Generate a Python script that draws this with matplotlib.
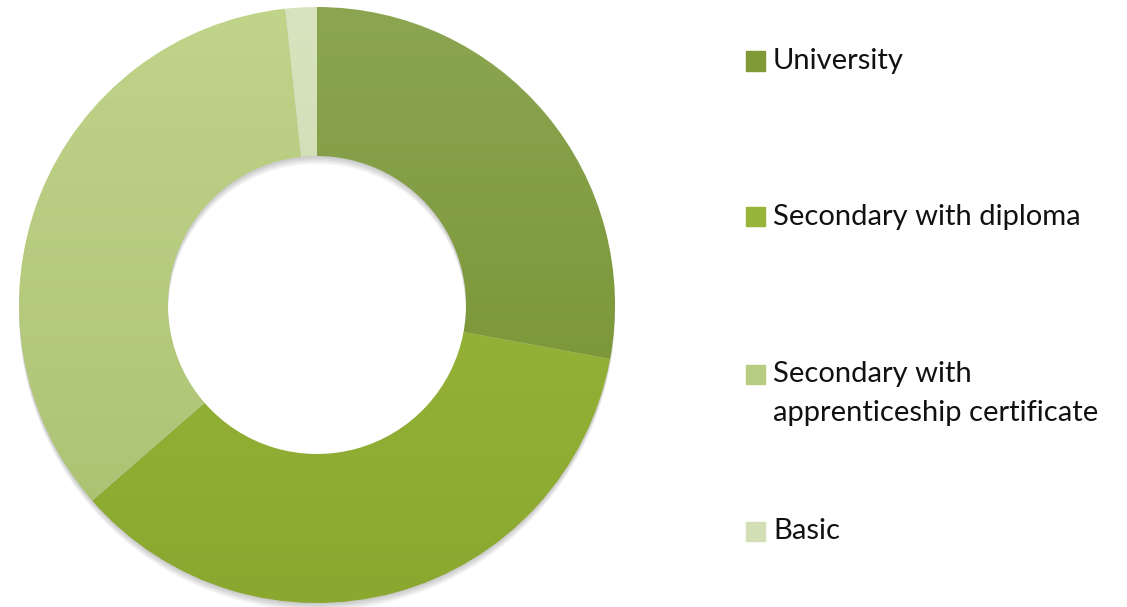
import matplotlib
matplotlib.use("Agg")
import matplotlib.pyplot as plt
import numpy as np
from matplotlib.colors import LinearSegmentedColormap
from matplotlib.patches import Rectangle, Wedge

# education level shares (%), read from the donut
labels = ["University", "Secondary with diploma",
          "Secondary with\napprenticeship certificate", "Basic"]
shares = [27.9, 35.7, 34.7, 1.7]
# top / bottom colour of the vertical gradient on each slice
top_colors = ["#8ba551", "#a0bd40", "#c0d48a", "#d8e4bf"]
bottom_colors = ["#72902a", "#8aa72f", "#a9c070", "#c2d2a2"]
legend_colors = ["#7f9a36", "#98b53b", "#b6cc80", "#d2dfb5"]

W, H = 1127, 607
fig = plt.figure(figsize=(W / 100, H / 100), dpi=100)

# donut centre and radius in pixels
cx, cy, r = 317, 305, 298
ax = fig.add_axes([(cx - r) / W, (H - cy - r) / H, 2 * r / W, 2 * r / H])
ax.axis("off")

# soft drop shadow under the ring
for k in range(1, 7):
    ax.add_patch(Wedge((0, -0.0045 * k), 1.0, 0, 360, width=0.5,
                       color="black", alpha=0.035, lw=0, zorder=0,
                       clip_on=False))

wedges, _ = ax.pie(shares, colors=legend_colors, startangle=90,
                   counterclock=False, radius=1.0,
                   wedgeprops=dict(width=0.5, linewidth=0))
grad = np.linspace(0, 1, 256).reshape(-1, 1)
for w, c1, c2 in zip(wedges, top_colors, bottom_colors):
    cmap = LinearSegmentedColormap.from_list("g", [c1, c2])
    w.set_facecolor("none")
    im = ax.imshow(grad, cmap=cmap, extent=[-1, 1, -1, 1], origin="upper",
                   aspect="auto", zorder=2)
    im.set_clip_path(w)
ax.set_xlim(-1, 1)
ax.set_ylim(-1, 1)
ax.set_aspect("equal")

# legend drawn by hand to follow the reference spacing
rows_y = [61, 217, 374, 531]
for lab, col, y in zip(labels, legend_colors, rows_y):
    fig.add_artist(Rectangle((746 / W, (H - y - 9.5) / H), 19 / W, 19 / H,
                             transform=fig.transFigure, color=col))
    for i, line in enumerate(lab.split("\n")):
        fig.text(773 / W, (H - y - 39 * i) / H, line, fontsize=21,
                 family="Lato", va="center", ha="left", color="#111111")

fig.savefig("out.png", dpi=100)
